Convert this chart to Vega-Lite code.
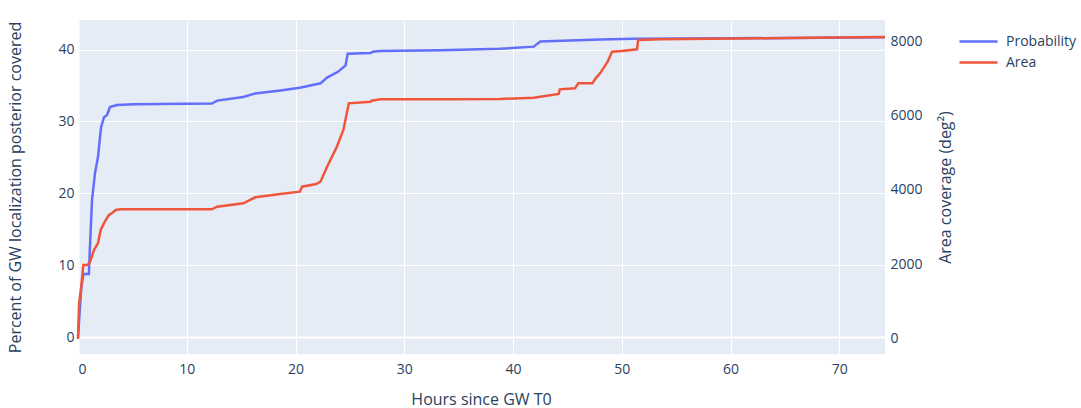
{
  "$schema": "https://vega.github.io/schema/vega-lite/v6.json",
  "width": 807,
  "height": 334,
  "autosize": {"type": "none"},
  "padding": {"left": 78, "top": 20, "right": 196, "bottom": 54},
  "background": "white",
  "config": {
    "view": {"fill": "#E5ECF6", "stroke": null},
    "font": "Open Sans",
    "axis": {
      "labelFont": "Open Sans", "titleFont": "Open Sans",
      "labelColor": "#2a3f5f", "titleColor": "#2a3f5f",
      "labelFontSize": 14, "titleFontSize": 16, "titleFontWeight": "normal",
      "domain": false, "ticks": false, "gridColor": "white",
      "gridWidth": 1
    },
    "legend": {"labelFont": "Open Sans", "labelColor": "#2a3f5f", "labelFontSize": 14}
  },
  "datasets": {
    "prob": [
      {"hours": 0, "pct": 0},
      {"hours": 0.3, "pct": 6.9},
      {"hours": 0.5, "pct": 8.8},
      {"hours": 1.0, "pct": 8.8},
      {"hours": 1.1, "pct": 12.6},
      {"hours": 1.29, "pct": 19.1},
      {"hours": 1.56, "pct": 22.8},
      {"hours": 1.84, "pct": 25.1},
      {"hours": 2.12, "pct": 29.2},
      {"hours": 2.39, "pct": 30.6},
      {"hours": 2.67, "pct": 30.9},
      {"hours": 2.94, "pct": 32.0},
      {"hours": 3.59, "pct": 32.3},
      {"hours": 5.15, "pct": 32.4},
      {"hours": 12.3, "pct": 32.5},
      {"hours": 12.8, "pct": 32.9},
      {"hours": 15.2, "pct": 33.4},
      {"hours": 16.3, "pct": 33.9},
      {"hours": 18.6, "pct": 34.3},
      {"hours": 20.4, "pct": 34.7},
      {"hours": 22.3, "pct": 35.3},
      {"hours": 22.9, "pct": 36.1},
      {"hours": 23.9, "pct": 36.9},
      {"hours": 24.6, "pct": 37.8},
      {"hours": 24.8, "pct": 39.4},
      {"hours": 26.9, "pct": 39.5},
      {"hours": 27.1, "pct": 39.7},
      {"hours": 27.8, "pct": 39.8},
      {"hours": 33.3, "pct": 39.9},
      {"hours": 38.8, "pct": 40.1},
      {"hours": 41.9, "pct": 40.4},
      {"hours": 42.5, "pct": 41.1},
      {"hours": 48.0, "pct": 41.4},
      {"hours": 51.1, "pct": 41.5},
      {"hours": 60.0, "pct": 41.55},
      {"hours": 74.2, "pct": 41.7}
    ],
    "area": [
      {"hours": 0, "deg2": 0},
      {"hours": 0.1, "deg2": 966},
      {"hours": 0.3, "deg2": 1396},
      {"hours": 0.49, "deg2": 1987},
      {"hours": 0.86, "deg2": 1987},
      {"hours": 1.1, "deg2": 2067},
      {"hours": 1.47, "deg2": 2389},
      {"hours": 1.84, "deg2": 2577},
      {"hours": 2.09, "deg2": 2926},
      {"hours": 2.46, "deg2": 3149},
      {"hours": 2.85, "deg2": 3329},
      {"hours": 3.13, "deg2": 3383},
      {"hours": 3.47, "deg2": 3463},
      {"hours": 3.93, "deg2": 3482},
      {"hours": 12.3, "deg2": 3482},
      {"hours": 12.8, "deg2": 3552},
      {"hours": 15.2, "deg2": 3643},
      {"hours": 16.3, "deg2": 3804},
      {"hours": 18.6, "deg2": 3893},
      {"hours": 20.4, "deg2": 3954},
      {"hours": 20.6, "deg2": 4089},
      {"hours": 21.9, "deg2": 4161},
      {"hours": 22.3, "deg2": 4223},
      {"hours": 22.9, "deg2": 4626},
      {"hours": 23.8, "deg2": 5163},
      {"hours": 24.4, "deg2": 5611},
      {"hours": 24.9, "deg2": 6327},
      {"hours": 26.9, "deg2": 6370},
      {"hours": 27.0, "deg2": 6397},
      {"hours": 27.8, "deg2": 6435},
      {"hours": 33.3, "deg2": 6435},
      {"hours": 38.8, "deg2": 6443},
      {"hours": 41.9, "deg2": 6478},
      {"hours": 44.2, "deg2": 6577},
      {"hours": 44.3, "deg2": 6703},
      {"hours": 45.7, "deg2": 6730},
      {"hours": 46.0, "deg2": 6864},
      {"hours": 47.3, "deg2": 6864},
      {"hours": 47.6, "deg2": 6998},
      {"hours": 48.0, "deg2": 7132},
      {"hours": 48.7, "deg2": 7444},
      {"hours": 49.1, "deg2": 7713},
      {"hours": 50.0, "deg2": 7732},
      {"hours": 51.4, "deg2": 7777},
      {"hours": 51.5, "deg2": 8027},
      {"hours": 53.5, "deg2": 8045},
      {"hours": 74.2, "deg2": 8107}
    ]
  },
  "encoding": {
    "x": {
      "field": "hours", "type": "quantitative",
      "scale": {"domain": [0, 74.2], "nice": false, "zero": false},
      "axis": {
        "values": [0, 10, 20, 30, 40, 50, 60, 70],
        "title": "Hours since GW T0",
        "labelPadding": 8,
        "titleX": 403, "titleY": 45, "titleAnchor": null,
        "titleAlign": "center", "titleBaseline": "middle",
        "gridWidth": {"condition": {"test": "datum.value === 0", "value": 2}, "value": 1}
      }
    }
  },
  "layer": [
    {
      "data": {"name": "prob"},
      "mark": {"type": "line", "strokeWidth": 2.5, "interpolate": "linear"},
      "encoding": {
        "y": {
          "field": "pct", "type": "quantitative",
          "scale": {"domain": [-2.3, 44.1], "nice": false, "zero": false},
          "axis": {
            "orient": "left",
            "values": [0, 10, 20, 30, 40],
            "title": "Percent of GW localization posterior covered",
            "labelPadding": 4,
            "titleX": -63, "titleY": 167, "titleAngle": 270,
            "titleAlign": "center", "titleBaseline": "middle",
            "gridWidth": {"condition": {"test": "datum.value === 0", "value": 2}, "value": 1}
          }
        },
        "color": {
          "datum": "Probability",
          "scale": {"domain": ["Probability", "Area"], "range": ["#636EFA", "#EF553B"]},
          "legend": {
            "title": null, "orient": "none", "legendX": 889.5, "legendY": 10.5,
            "symbolType": "M-2,0H2", "symbolSize": 361, "symbolStrokeWidth": 2.5,
            "labelOffset": 16.5, "rowPadding": 3
          }
        }
      }
    },
    {
      "data": {"name": "area"},
      "mark": {"type": "line", "strokeWidth": 2.5, "interpolate": "linear"},
      "encoding": {
        "y": {
          "field": "deg2", "type": "quantitative",
          "scale": {"domain": [-403, 8564], "nice": false, "zero": false},
          "axis": {
            "orient": "right",
            "values": [0, 2000, 4000, 6000, 8000],
            "format": "d",
            "title": "Area coverage (deg²)",
            "labelPadding": 5,
            "titleX": 60, "titleY": 167, "titleAngle": 270,
            "titleAlign": "center", "titleBaseline": "middle",
            "gridWidth": {"condition": {"test": "datum.value === 0", "value": 2}, "value": 1}
          }
        },
        "color": {"datum": "Area"}
      }
    }
  ],
  "resolve": {"scale": {"y": "independent"}}
}
